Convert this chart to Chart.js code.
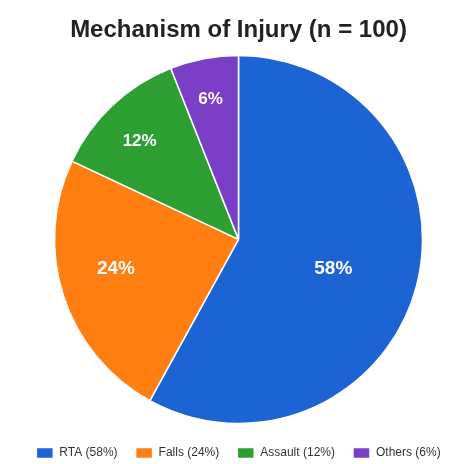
<!DOCTYPE html>
<html>
<head>
<meta charset="utf-8">
<script src="https://cdn.jsdelivr.net/npm/chart.js@4/dist/chart.umd.min.js"></script>
<style>
  html, body { margin: 0; padding: 0; background: #ffffff; }
  #wrap { width: 459px; height: 464px; }
</style>
</head>
<body>
<div id="wrap"><canvas id="c" width="459" height="464"></canvas></div>
<script>
const titleText = "Mechanism of Injury (n = 100)";
const categories = ["RTA", "Falls", "Assault", "Others"];
const values = [58, 24, 12, 6];
const legendLabels = ["RTA (58%)", "Falls (24%)", "Assault (12%)", "Others (6%)"];
const sliceLabels = ["58%", "24%", "12%", "6%"];

const colors = ["#1c64d3", "#ff7f12", "#2d9f33", "#7a3fc6"];
const labelRadiusFrac = [0.54, 0.685, 0.757, 0.775];
const labelAngleShiftDeg = [3, 4.5, -2, -0.5];
const labelFontSize = [19, 19, 17, 17];

const sliceLabelPlugin = {
  id: "sliceLabels",
  afterDatasetsDraw(chart) {
    const ctx = chart.ctx;
    const meta = chart.getDatasetMeta(0);
    meta.data.forEach((arc, i) => {
      const p = arc.getProps(["x", "y", "startAngle", "endAngle", "outerRadius"], true);
      const mid = (p.startAngle + p.endAngle) / 2 + labelAngleShiftDeg[i] * Math.PI / 180;
      const r = p.outerRadius * labelRadiusFrac[i];
      const x = p.x + Math.cos(mid) * r;
      const y = p.y + Math.sin(mid) * r;
      ctx.save();
      ctx.font = "bold " + labelFontSize[i] + "px 'Liberation Sans', Arial, sans-serif";
      ctx.fillStyle = "#ffffff";
      ctx.textAlign = "center";
      ctx.textBaseline = "middle";
      ctx.fillText(sliceLabels[i], x, y);
      ctx.restore();
    });
  }
};

new Chart(document.getElementById("c"), {
  type: "pie",
  data: {
    labels: legendLabels,
    datasets: [{
      data: values,
      backgroundColor: colors,
      borderColor: "#ffffff",
      borderWidth: 1.5,
      radius: 184
    }]
  },
  options: {
    responsive: false,
    animation: false,
    layout: { padding: { top: 0, bottom: -5, left: 18, right: 0 } },
    plugins: {
      title: {
        display: true,
        text: titleText,
        color: "#222222",
        font: { family: "'Liberation Sans', Arial, sans-serif", size: 24, weight: "bold" },
        padding: { top: 16, bottom: 5 }
      },
      legend: {
        position: "bottom",
        labels: {
          color: "#333333",
          font: { family: "'Liberation Sans', Arial, sans-serif", size: 12 },
          boxWidth: 17,
          boxHeight: 11,
          padding: 18
        }
      },
      tooltip: { enabled: false }
    }
  },
  plugins: [sliceLabelPlugin]
});
</script>
</body>
</html>
